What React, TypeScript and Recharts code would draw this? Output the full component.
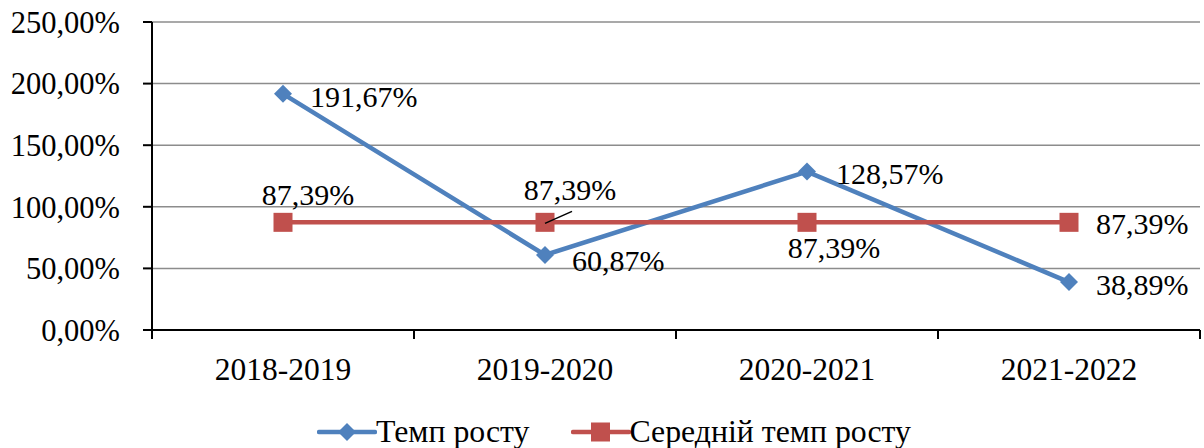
import { LineChart, Line, XAxis, YAxis, CartesianGrid, LabelList } from "recharts";

const categories = ["2018-2019", "2019-2020", "2020-2021", "2021-2022"];
const growthRate = [191.67, 60.87, 128.57, 38.89];
const avgGrowthRate = [87.39, 87.39, 87.39, 87.39];
const yTicks = [0, 50, 100, 150, 200, 250];
const seriesNames = ["Темп росту", "Середній темп росту"];

const BLUE = "#4F81BD";
const RED = "#C0504D";
const FONT = "Times New Roman, Liberation Serif, Tinos, DejaVu Serif, serif";
const FS = 30;

const W = 1204;
const H = 448;
const PLOT_LEFT = 152;
const PLOT_RIGHT = 1200;
const PLOT_TOP = 22;
const PLOT_BOTTOM = 330;
const BAND = (PLOT_RIGHT - PLOT_LEFT) / categories.length;

const data = categories.map((c, i) => ({
  name: c,
  growth: growthRate[i],
  avg: avgGrowthRate[i],
}));

const pct = (v: number) => v.toFixed(2).replace(".", ",") + "%";

const Diamond = (props: any) => {
  const { cx, cy } = props;
  if (cx == null || cy == null) return null;
  const r = 9;
  return <path d={`M${cx},${cy - r}L${cx + r},${cy}L${cx},${cy + r}L${cx - r},${cy}Z`} fill={BLUE} />;
};

const Square = (props: any) => {
  const { cx, cy } = props;
  if (cx == null || cy == null) return null;
  const r = 9.5;
  return <rect x={cx - r} y={cy - r} width={r * 2} height={r * 2} fill={RED} />;
};

// per-point label placement, as Excel had them after manual dragging
const growthOffsets = [
  { dx: 27, dy: 3 },
  { dx: 27, dy: 5 },
  { dx: 29, dy: 2 },
  { dx: 27, dy: 2 },
];
const avgOffsets = [
  { dx: 25, dy: -28, anchor: "middle" },
  { dx: 25, dy: -33, anchor: "middle", leader: true },
  { dx: 27, dy: 25, anchor: "middle" },
  { dx: 27, dy: 1, anchor: "start" },
];

const GrowthLabel = (props: any) => {
  const { x, y, value, index } = props;
  const o = growthOffsets[index];
  return (
    <text x={x + o.dx} y={y + o.dy} dy="0.35em" fontFamily={FONT} fontSize={FS} fill="#000" textAnchor="start">
      {pct(value)}
    </text>
  );
};

const AvgLabel = (props: any) => {
  const { x, y, value, index } = props;
  const o = avgOffsets[index];
  return (
    <g>
      {o.leader && <line x1={x} y1={y + 1} x2={x + 27} y2={y - 11} stroke="#000" strokeWidth={1.5} />}
      <text x={x + o.dx} y={y + o.dy} dy="0.35em" fontFamily={FONT} fontSize={FS} fill="#000" textAnchor={o.anchor as any}>
        {pct(value)}
      </text>
    </g>
  );
};

const CategoryTick = (props: any) => {
  const { x, payload, index } = props;
  return (
    <g>
      <line x1={x - BAND / 2} y1={PLOT_BOTTOM} x2={x - BAND / 2} y2={PLOT_BOTTOM + 9} stroke="#000" strokeWidth={2} />
      {index === categories.length - 1 && (
        <line x1={x + BAND / 2} y1={PLOT_BOTTOM} x2={x + BAND / 2} y2={PLOT_BOTTOM + 9} stroke="#000" strokeWidth={2} />
      )}
      <text x={x} y={PLOT_BOTTOM + 39} dy="0.35em" textAnchor="middle" fontFamily={FONT} fontSize={31.5} fill="#000">
        {payload.value}
      </text>
    </g>
  );
};

// legend drawn beside the chart so it does not eat into the plot height
const ChartLegend = () => (
  <div
    style={{
      position: "absolute",
      left: 317,
      top: 412,
      height: 40,
      display: "flex",
      alignItems: "center",
      fontFamily: FONT,
      fontSize: 31.8,
      color: "#000",
      whiteSpace: "nowrap",
    }}
  >
    <svg width={60} height={20} style={{ marginRight: -1 }}>
      <line x1={2} y1={10} x2={58} y2={10} stroke={BLUE} strokeWidth={4.5} strokeLinecap="round" />
      <path d="M30,1L39,10L30,19L21,10Z" fill={BLUE} />
    </svg>
    <span style={{ marginRight: 41 }}>{seriesNames[0]}</span>
    <svg width={60} height={20} style={{ marginRight: -1 }}>
      <line x1={2} y1={10} x2={58} y2={10} stroke={RED} strokeWidth={4.5} strokeLinecap="round" />
      <rect x={20} y={0.5} width={19} height={19} fill={RED} />
    </svg>
    <span>{seriesNames[1]}</span>
  </div>
);

export default function App() {
  return (
    <div style={{ position: "absolute", left: 0, top: 0, width: W, height: H, background: "#fff", fontFamily: FONT }}>
      <LineChart
        width={W}
        height={H}
        data={data}
        margin={{ top: PLOT_TOP, right: W - PLOT_RIGHT, bottom: 0, left: 0 }}
      >
        <CartesianGrid vertical={false} stroke="#8c8c8c" strokeWidth={1.5} />
        <XAxis
          dataKey="name"
          height={H - PLOT_BOTTOM}
          padding={{ left: BAND / 2, right: BAND / 2 }}
          axisLine={{ stroke: "#000", strokeWidth: 2 }}
          tickLine={false}
          tick={<CategoryTick />}
          interval={0}
        />
        <YAxis
          domain={[0, 250]}
          ticks={yTicks}
          width={PLOT_LEFT}
          axisLine={{ stroke: "#000", strokeWidth: 2 }}
          tickLine={{ stroke: "#000", strokeWidth: 2 }}
          tickSize={9}
          tickMargin={23}
          tickFormatter={pct}
          tick={{ fontFamily: FONT, fontSize: 30.5, fill: "#000" }}
        />
        <Line
          dataKey="growth"
          name={seriesNames[0]}
          stroke={BLUE}
          strokeWidth={4.5}
          dot={<Diamond />}
          activeDot={false}
          isAnimationActive={false}
        >
          <LabelList dataKey="growth" content={<GrowthLabel />} />
        </Line>
        <Line
          dataKey="avg"
          name={seriesNames[1]}
          stroke={RED}
          strokeWidth={4.5}
          dot={<Square />}
          activeDot={false}
          isAnimationActive={false}
        >
          <LabelList dataKey="avg" content={<AvgLabel />} />
        </Line>
      </LineChart>
      <ChartLegend />
    </div>
  );
}
